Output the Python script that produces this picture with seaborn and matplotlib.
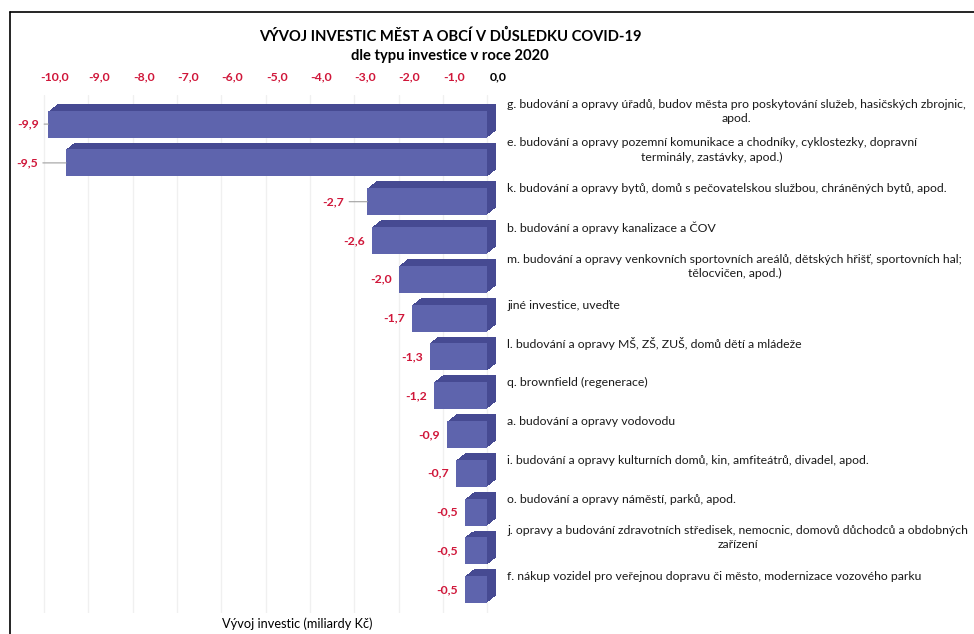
import matplotlib
matplotlib.use("Agg")
import matplotlib.pyplot as plt
import matplotlib.patheffects as pe
from matplotlib.transforms import ScaledTranslation
from matplotlib.lines import Line2D
import seaborn as sns
import pandas as pd

categories = [
    "g. budování a opravy úřadů, budov města pro poskytování služeb, hasičských zbrojnic,\napod.",
    "e. budování a opravy pozemní komunikace a chodníky, cyklostezky, dopravní\nterminály, zastávky, apod.)",
    "k. budování a opravy bytů, domů s pečovatelskou službou, chráněných bytů, apod.",
    "b. budování a opravy kanalizace a ČOV",
    "m. budování a opravy venkovních sportovních areálů, dětských hřišť, sportovních hal;\ntělocvičen, apod.)",
    "jiné investice, uveďte",
    "l. budování a opravy MŠ, ZŠ, ZUŠ, domů dětí a mládeže",
    "q. brownfield (regenerace)",
    "a. budování a opravy vodovodu",
    "i. budování a opravy kulturních domů, kin, amfiteátrů, divadel, apod.",
    "o. budování a opravy náměstí, parků, apod.",
    "j. opravy a budování zdravotních středisek, nemocnic, domovů důchodců a obdobných\nzařízení",
    "f. nákup vozidel pro veřejnou dopravu či město, modernizace vozového parku",
]
values = [-9.9, -9.5, -2.7, -2.6, -2.0, -1.7, -1.3, -1.2, -0.9, -0.7, -0.5, -0.5, -0.5]
tick_values = [-10, -9, -8, -7, -6, -5, -4, -3, -2, -1, 0]

title1 = "VÝVOJ INVESTIC MĚST A OBCÍ V DŮSLEDKU COVID-19"
title2 = "dle typu investice v roce 2020"
xlabel = "Vývoj investic (miliardy Kč)"

sns.set_theme(style="white")
plt.rcParams["font.family"] = ["Lato", "DejaVu Sans"]

RED = "#D0173A"
FRONT = "#5E64AD"
DEPTH = "#464A92"

W, H = 974, 634
fig = plt.figure(figsize=(W / 100, H / 100), dpi=100)
ax = fig.add_axes([28.5 / W, 21 / H, 467.5 / W, 518 / H])

df = pd.DataFrame({"cat": categories, "val": values})
sns.barplot(data=df, x="val", y="cat", orient="h", color=FRONT, width=0.7,
            saturation=1, ax=ax, zorder=3)

# pseudo-3D extrusion (up-right)
effects = [pe.SimplePatchShadow(offset=(k * 0.9, k * 0.7), shadow_rgbFace=DEPTH, alpha=1)
           for k in range(7, 0, -1)] + [pe.Normal()]
for p in ax.patches:
    p.set_path_effects(effects)
    p.set_edgecolor("none")

ax.set_xlim(-10.35, 0.2)
ax.set_ylim(12.6, -0.75)
ax.set_xticks(tick_values)
ax.set_xticklabels([f"{v:.1f}".replace(".", ",") for v in tick_values])
ax.xaxis.tick_top()
ax.tick_params(axis="x", length=0, pad=9, labelsize=8.8)
shift = ScaledTranslation(11 / 100, 0, fig.dpi_scale_trans)
for lab, v in zip(ax.get_xticklabels(), tick_values):
    lab.set_fontweight("bold")
    lab.set_color("black" if v == 0 else RED)
    lab.set_transform(lab.get_transform() + shift)
ax.set_yticks([])
ax.set_ylabel("")
ax.set_xlabel("")
for s in ax.spines.values():
    s.set_visible(False)
ax.grid(axis="x", color="#F0F0F0", linewidth=1, zorder=0)
ax.set_axisbelow(True)

# value labels
leader = {0: 9, 1: 28, 2: 23}
for i, v in enumerate(values):
    off = leader.get(i, 7)
    lab = f"{v:.1f}".replace(".", ",")
    if i in leader:
        ax.annotate(lab, xy=(v, i), xytext=(-off, 0), textcoords="offset pixels",
                    ha="right", va="center", color=RED, fontsize=8.8, fontweight="bold",
                    arrowprops=dict(arrowstyle="-", color="#A0A0A0", lw=0.8,
                                    shrinkA=1, shrinkB=0))
    else:
        ax.annotate(lab, xy=(v, i), xytext=(-off, 0), textcoords="offset pixels",
                    ha="right", va="center", color=RED, fontsize=8.8, fontweight="bold")

# category labels on the right
for i, c in enumerate(categories):
    ax.annotate(c, xy=(0, i), xytext=(20, 13), textcoords="offset pixels",
                ha="left", va="center", multialignment="center",
                fontsize=8.8, color="#1a1a1a", linespacing=1.35, annotation_clip=False)

fig.text(450 / W, 1 - 36 / H, title1, ha="center", va="center", fontsize=10.6,
         fontweight="bold", color="black")
fig.text(450 / W, 1 - 56 / H, title2, ha="center", va="center", fontsize=10.6,
         fontweight="bold", color="black")
fig.text(297 / W, 1 - 624 / H, xlabel, ha="center", va="center", fontsize=9.2,
         color="black")

# outer frame (left and top edges visible)
fig.add_artist(Line2D([10 / W, 10 / W], [0, 1 - 12 / H], transform=fig.transFigure,
                      color="black", lw=1.2))
fig.add_artist(Line2D([10 / W, 1], [1 - 12 / H, 1 - 12 / H], transform=fig.transFigure,
                      color="black", lw=1.2))

fig.savefig("out.png", dpi=100)
